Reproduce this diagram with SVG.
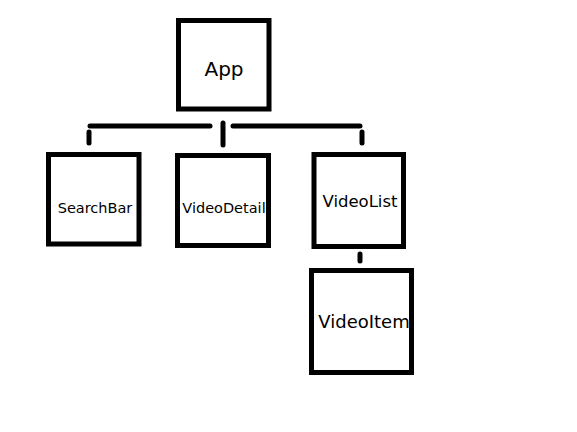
<svg xmlns="http://www.w3.org/2000/svg" width="577" height="432" viewBox="0 0 577 432">
<style>
.box{fill:#fff;stroke:#000;stroke-width:5}
.c{stroke:#000;stroke-width:5;stroke-linecap:round;fill:none}
text{font-family:"Comic Sans MS","DejaVu Sans","Liberation Sans",sans-serif;fill:#000;text-anchor:middle}
</style>
<rect width="577" height="432" fill="#fff"/>
<g id="connectors">
<line class="c" x1="90" y1="126" x2="210" y2="126"/>
<line class="c" x1="233" y1="126" x2="360" y2="126"/>
<line class="c" x1="223" y1="123" x2="223" y2="145"/>
<line class="c" x1="89" y1="132" x2="89" y2="143"/>
<line class="c" x1="362" y1="132" x2="362" y2="143"/>
<line class="c" x1="360" y1="254" x2="360" y2="261"/>
</g>
<g id="app">
<rect class="box" x="178.5" y="20.5" width="90.5" height="88.5"/>
<text x="224" y="76" font-size="20">App</text>
</g>
<g id="searchbar">
<rect class="box" x="48.5" y="154.5" width="90.5" height="89.5"/>
<text x="95" y="213" font-size="14.5">SearchBar</text>
</g>
<g id="videodetail">
<rect class="box" x="177.5" y="155.5" width="91" height="90"/>
<text x="224" y="213" font-size="14.5">VideoDetail</text>
</g>
<g id="videolist">
<rect class="box" x="314" y="154.5" width="89.5" height="92"/>
<text x="360" y="207" font-size="16.5">VideoList</text>
</g>
<g id="videoitem">
<rect class="box" x="311.5" y="270.5" width="100" height="102"/>
<text x="364" y="328" font-size="18">VideoItem</text>
</g>
</svg>
